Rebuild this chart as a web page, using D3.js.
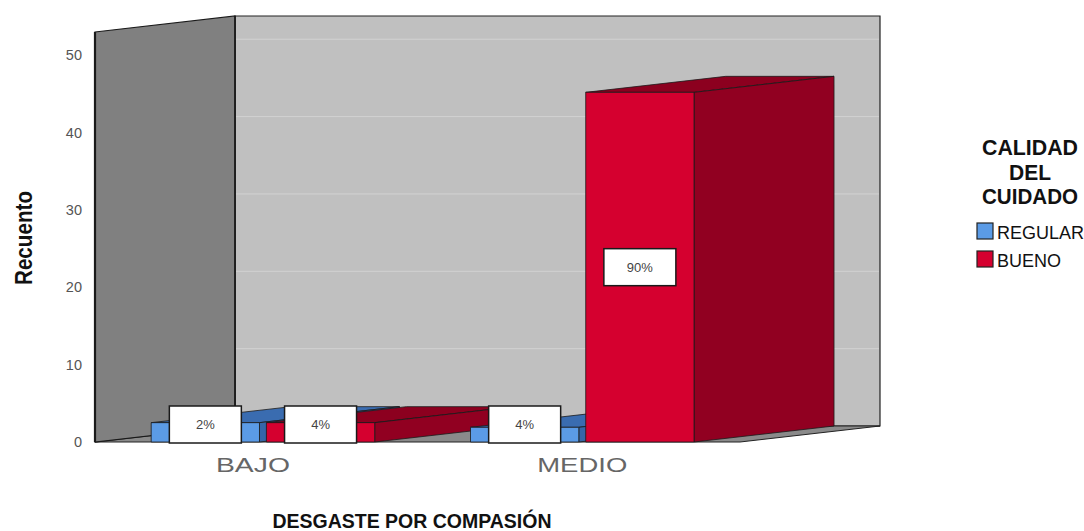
<!DOCTYPE html>
<html><head><meta charset="utf-8">
<script src="https://cdn.jsdelivr.net/npm/d3@7"></script>
<style>body{margin:0;background:#fff;} svg{display:block}</style>
</head><body><svg id="c" width="1084" height="531"></svg>
<script>
// ---- data (counts; labels as printed) ----
const categories = ["BAJO", "MEDIO"];
const series = ["REGULAR", "BUENO"];
const regularValues = [2.5, 1.9];
const buenoValues = [2.5, 45.2];
const regularLabels = ["2%", "4%"];
const buenoLabels = ["4%", "90%"];
const yTicks = [0, 10, 20, 30, 40, 50];
const yTitle = "Recuento";
const xTitle = "DESGASTE POR COMPASIÓN";
const legendTitle = ["CALIDAD", "DEL", "CUIDADO"];

// ---- layout / style ----
const FONT = "'Liberation Sans', Arial, Helvetica, sans-serif";
const left = 95, right = 740, DX = 140, DY = -16;
const colors = {
  REGULAR: {front: "#5b9be6", top: "#3a6cb0", side: "#3566a8"},
  BUENO:   {front: "#d5002f", top: "#8c001f", side: "#910021"}
};

const svg = d3.select("#c");
const y = d3.scaleLinear().domain([0, 53]).range([442, 32]);
const y0 = y(0);
const x0 = d3.scaleBand().domain(categories).range([left, right])
  .paddingInner(0.3).paddingOuter(0.16).align(0.55);
const x1 = d3.scaleBand().domain(series).range([0, x0.bandwidth()]).paddingInner(0.06);

const poly = pts => pts.map(p => p.join(",")).join(" ");
const yTop = y(53);

// back wall
svg.append("polygon")
  .attr("points", poly([[left+DX, yTop+DY],[right+DX, yTop+DY],[right+DX, y0+DY],[left+DX, y0+DY]]))
  .attr("fill", "#c0c0c0").attr("stroke", "#222").attr("stroke-width", 1.2);
// gridlines
svg.append("g").selectAll("line").data(yTicks.filter(t => t > 0)).join("line")
  .attr("x1", left+DX+1).attr("x2", right+DX-1)
  .attr("y1", d => y(d)+DY).attr("y2", d => y(d)+DY)
  .attr("stroke", "#d2d2d2").attr("stroke-width", 1);
// floor
svg.append("polygon")
  .attr("points", poly([[left, y0],[right, y0],[right+DX, y0+DY],[left+DX, y0+DY]]))
  .attr("fill", "#8a8a8a").attr("stroke", "#222").attr("stroke-width", 1);
// left wall
svg.append("polygon")
  .attr("points", poly([[left, yTop],[left+DX, yTop+DY],[left+DX, y0+DY],[left, y0]]))
  .attr("fill", "#808080").attr("stroke", "#1a1a1a").attr("stroke-width", 1.2);
svg.append("line").attr("x1", left).attr("x2", left).attr("y1", yTop).attr("y2", y0)
  .attr("stroke", "#1a1a1a").attr("stroke-width", 2.2);
svg.append("line").attr("x1", left+DX).attr("x2", left+DX).attr("y1", yTop+DY).attr("y2", y0+DY)
  .attr("stroke", "#1a1a1a").attr("stroke-width", 1.6);

// bars
const bars = [];
categories.forEach((c, i) => {
  series.forEach(s => {
    const v = s === "REGULAR" ? regularValues[i] : buenoValues[i];
    const lab = s === "REGULAR" ? regularLabels[i] : buenoLabels[i];
    bars.push({c, s, v, lab, x: x0(c) + x1(s), w: x1.bandwidth()});
  });
});
const gb = svg.append("g");
bars.forEach(b => {
  const yt = y(b.v), xa = b.x, xb = b.x + b.w;
  const g = gb.append("g");
  g.append("polygon").attr("points", poly([[xa, yt],[xa+DX, yt+DY],[xb+DX, yt+DY],[xb, yt]]))
    .attr("fill", colors[b.s].top).attr("stroke", "#1a1a1a").attr("stroke-width", 0.8);
  g.append("polygon").attr("points", poly([[xb, yt],[xb+DX, yt+DY],[xb+DX, y0+DY],[xb, y0]]))
    .attr("fill", colors[b.s].side).attr("stroke", "#1a1a1a").attr("stroke-width", 0.8);
  g.append("polygon").attr("points", poly([[xa, yt],[xb, yt],[xb, y0],[xa, y0]]))
    .attr("fill", colors[b.s].front).attr("stroke", "#1a1a1a").attr("stroke-width", 0.8);
});

// value label boxes
const boxW = 72, boxH = 37;
const gl = svg.append("g");
bars.forEach(b => {
  const cx = b.x + b.w / 2;
  const cy = Math.min((y(b.v) + y0) / 2, y0 - boxH / 2 + 1);
  gl.append("rect").attr("x", cx - boxW/2).attr("y", cy - boxH/2)
    .attr("width", boxW).attr("height", boxH)
    .attr("fill", "#fff").attr("stroke", "#1a1a1a").attr("stroke-width", 1.5);
  gl.append("text").attr("x", cx).attr("y", cy).attr("dy", "0.35em")
    .attr("text-anchor", "middle").attr("font-family", FONT).attr("font-size", 13)
    .attr("fill", "#444").text(b.lab);
});

// y axis
const ya = svg.append("g").attr("transform", "translate(88,0)")
  .call(d3.axisLeft(y).tickValues(yTicks).tickSize(0).tickPadding(6).tickFormat(d3.format("d")));
ya.select(".domain").remove();
ya.selectAll("text").attr("font-family", FONT).attr("font-size", 14.5).attr("fill", "#555");

// x category labels
svg.append("g").selectAll("text").data(categories).join("text")
  .attr("x", d => x0(d) + x0.bandwidth()/2 - (d === "BAJO" ? 10 : 0)).attr("y", 472)
  .attr("text-anchor", "middle").attr("font-family", FONT).attr("font-size", 21)
  .attr("fill", "#666")
  .attr("textLength", d => d === "BAJO" ? 74 : 90).attr("lengthAdjust", "spacingAndGlyphs")
  .text(d => d);

// y title
svg.append("text").attr("transform", "translate(32,238) rotate(-90)")
  .attr("text-anchor", "middle").attr("font-family", FONT).attr("font-weight", "bold")
  .attr("font-size", 24).attr("fill", "#111")
  .attr("textLength", 94).attr("lengthAdjust", "spacingAndGlyphs").text(yTitle);

// x title
svg.append("text").attr("x", 412).attr("y", 528).attr("text-anchor", "middle")
  .attr("font-family", FONT).attr("font-weight", "bold").attr("font-size", 20).attr("fill", "#111")
  .attr("textLength", 279).attr("lengthAdjust", "spacingAndGlyphs").text(xTitle);

// legend
const lg = svg.append("g");
const ltLens = [96, 42, 96];
const ltBase = [155, 179.5, 204];
legendTitle.forEach((t, i) => {
  lg.append("text").attr("x", 1030).attr("y", ltBase[i]).attr("text-anchor", "middle")
    .attr("font-family", FONT).attr("font-weight", "bold").attr("font-size", 22).attr("fill", "#111")
    .attr("textLength", ltLens[i]).attr("lengthAdjust", "spacingAndGlyphs").text(t);
});
series.forEach((s, i) => {
  const yy = 223 + i * 28;
  lg.append("rect").attr("x", 977).attr("y", yy).attr("width", 16).attr("height", 16)
    .attr("fill", colors[s].front).attr("stroke", "#222").attr("stroke-width", 1.2);
  lg.append("text").attr("x", 997).attr("y", yy + 16).attr("font-family", FONT)
    .attr("font-size", 18).attr("fill", "#111").text(s);
});
</script></body></html>
